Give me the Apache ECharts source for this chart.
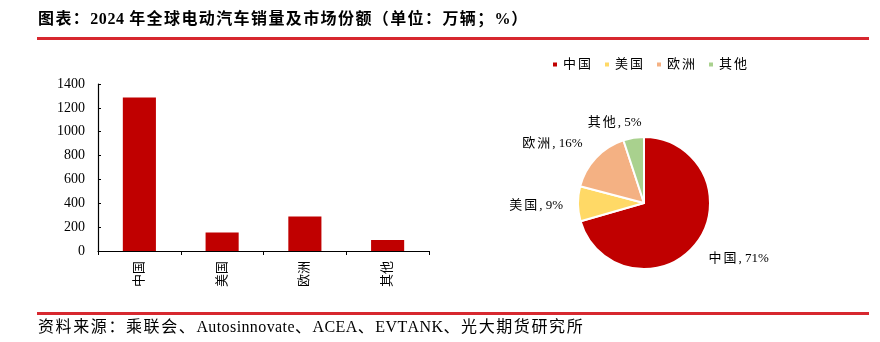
<!DOCTYPE html>
<html>
<head>
<meta charset="utf-8">
<script src="https://cdn.jsdelivr.net/npm/echarts@6/dist/echarts.min.js"></script>
<style>
  html, body { margin: 0; padding: 0; background: #fff; }
  #chart { width: 880px; height: 342px; }
</style>
</head>
<body>
<div id="chart"></div>
<script>
// 2024 global EV sales by region (10k units) and market share
const regions = ['中国', '美国', '欧洲', '其他'];
const sales = [1286, 156, 289, 92];
const sliceColors = ['#C00000', '#FFD966', '#F4B183', '#A9D18E'];
const yTicks = { min: 0, max: 1400, step: 200 };

const titleText = '图表：2024 年全球电动汽车销量及市场份额（单位：万辆；%）';
const sourceText = '资料来源：乘联会、Autosinnovate、ACEA、EVTANK、光大期货研究所';

const serif = '"Liberation Serif", "Times New Roman", "Noto Sans CJK SC", serif';
const ink = '#000000';
const ruleRed = '#D7282F';

// Split a string into rich-text tokens so CJK glyphs get a little tracking,
// the way the document typesetting spreads them out.
function tracked(text) {
  return text.split('').map(ch => {
    const cjk = ch.charCodeAt(0) > 0x2E80;
    return '{' + (cjk ? 'c' : 'l') + '|' + ch + '}';
  }).join('');
}
function trackStyles(font, cjkGap, latinGap, weight) {
  return {
    c: { fontSize: font, fontFamily: serif, fontWeight: weight || 'normal', color: ink, padding: [0, cjkGap, 0, 0] },
    l: { fontSize: font, fontFamily: serif, fontWeight: weight || 'normal', color: ink, padding: [0, latinGap, 0, 0] }
  };
}

const chart = echarts.init(document.getElementById('chart'), null, { renderer: 'canvas' });

chart.setOption({
  animation: false,
  backgroundColor: '#ffffff',
  textStyle: { fontFamily: serif, color: ink },
  graphic: [
    { type: 'text', left: 38, top: 12,
      style: { text: tracked(titleText), rich: trackStyles(16, 1.4, 0.6, 'bold') } },
    { type: 'rect', shape: { x: 37, y: 37, width: 832, height: 3 },
      style: { fill: ruleRed } },
    { type: 'rect', shape: { x: 37, y: 312, width: 832, height: 3 },
      style: { fill: ruleRed } },
    { type: 'text', left: 38, top: 320,
      style: { text: tracked(sourceText), rich: trackStyles(16, 1.6, 0.4) } }
  ],
  legend: {
    data: regions,
    left: 546, top: 53,
    itemWidth: 6, itemHeight: 6, itemGap: 12,
    icon: 'rect',
    formatter: name => tracked(name),
    textStyle: { rich: trackStyles(13, 2, 0) }
  },
  grid: { left: 98, right: 451, top: 84, bottom: 91, containLabel: false },
  xAxis: {
    type: 'category',
    data: regions,
    axisLine: { lineStyle: { color: '#000', width: 1.2 } },
    axisTick: { show: true, length: 4, lineStyle: { color: '#000' } },
    axisLabel: { rotate: 90, fontSize: 13, color: ink, margin: 10, fontFamily: serif }
  },
  yAxis: {
    type: 'value',
    min: yTicks.min, max: yTicks.max, interval: yTicks.step,
    axisLine: { show: true, lineStyle: { color: '#000', width: 1.2 } },
    axisTick: { show: true, inside: true, length: 3, lineStyle: { color: '#000' } },
    splitLine: { show: false },
    axisLabel: { fontSize: 14, color: ink, margin: 13, fontFamily: serif, formatter: v => String(v) }
  },
  series: [
    {
      type: 'bar',
      data: sales,
      barWidth: '40%',
      itemStyle: { color: sliceColors[0] },
      legendHoverLink: false
    },
    {
      type: 'pie',
      center: [644, 203],
      radius: 66,
      startAngle: 90,
      clockwise: true,
      data: regions.map((name, i) => ({ name, value: sales[i], itemStyle: { color: sliceColors[i] } })),
      itemStyle: { borderColor: '#fff', borderWidth: 2 },
      label: {
        show: true,
        position: 'outside',
        formatter: p => tracked(p.name) + '{l|, ' + Math.round(p.percent) + '%}',
        rich: trackStyles(13, 2, 0)
      },
      labelLine: { show: false, length: 6, length2: 4 },
      // nudge labels to sit like the document's best-fit placement
      labelLayout: p => {
        const shift = [[-2, 12], [0, 2], [0, -10], [18, -9]][p.dataIndex];
        return { dx: shift[0], dy: shift[1] };
      }
    }
  ]
});
</script>
</body>
</html>
